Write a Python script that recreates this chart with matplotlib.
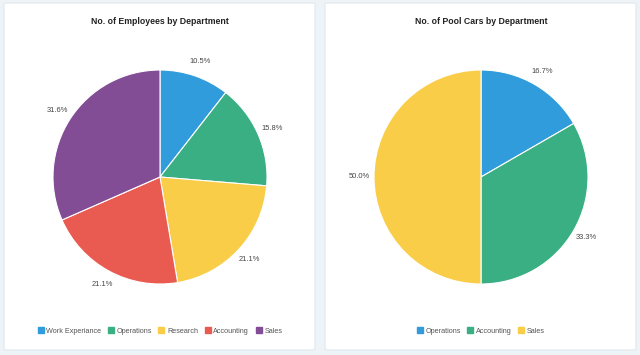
import matplotlib.pyplot as plt
from matplotlib.patches import FancyBboxPatch
from matplotlib.lines import Line2D

plt.rcParams['font.family'] = ['Liberation Sans', 'DejaVu Sans']

# employees by department
emp_labels = ["Work Experiance", "Operations", "Research", "Accounting", "Sales"]
emp_counts = [2, 3, 4, 4, 6]
emp_colors = ["#309cdb", "#3aaf83", "#f9cd48", "#e95a51", "#834d96"]

# pool cars by department
car_labels = ["Operations", "Accounting", "Sales"]
car_counts = [1, 2, 3]
car_colors = ["#309cdb", "#3aaf83", "#f9cd48"]

W, H = 640, 355
fig = plt.figure(figsize=(W / 100, H / 100), dpi=100)
fig.patch.set_facecolor("#eef3f8")


def panel(x0, x1, y0, y1):
    # white card in pixel coords (y from top)
    p = FancyBboxPatch((x0 / W, 1 - y1 / H), (x1 - x0) / W, (y1 - y0) / H,
                       boxstyle="round,pad=0,rounding_size=0.004",
                       transform=fig.transFigure, facecolor="white",
                       edgecolor="#e2e7ed", linewidth=0.8, zorder=-5)
    fig.patches.append(p)


def draw_pie(cx, cy, r, counts, colors, labels, title):
    ax = fig.add_axes([(cx - r) / W, 1 - (cy + r) / H, 2 * r / W, 2 * r / H])
    ax.patch.set_visible(False)
    ax.pie(counts, colors=colors, startangle=90, counterclock=False,
           autopct="%.1f%%", pctdistance=1.14, radius=1,
           wedgeprops=dict(edgecolor="white", linewidth=0.8),
           textprops=dict(fontsize=5.4, color="#444444"))
    ax.set_xlim(-1, 1)
    ax.set_ylim(-1, 1)
    ax.set_aspect("equal")
    ax.axis("off")
    fig.text(cx / W, 1 - 21 / H, title, ha="center", va="center",
             fontsize=6.3, fontweight="bold", color="#222222")
    handles = [Line2D([], [], marker="s", linestyle="", markersize=4.2,
                      markerfacecolor=c, markeredgecolor=c) for c in colors]
    fig.legend(handles, labels, loc="center", bbox_to_anchor=(cx / W, 1 - 331 / H),
               ncol=len(labels), frameon=False, fontsize=5.2, handlelength=0.8,
               handletextpad=0.4, columnspacing=0.9, labelcolor="#555555")


panel(4, 315, 3, 350)
panel(325, 636, 3, 350)

draw_pie(160, 177, 107, emp_counts, emp_colors, emp_labels,
         "No. of Employees by Department")
draw_pie(481, 177, 107, car_counts, car_colors, car_labels,
         "No. of Pool Cars by Department")

fig.savefig("out.png", dpi=100, facecolor=fig.get_facecolor())
